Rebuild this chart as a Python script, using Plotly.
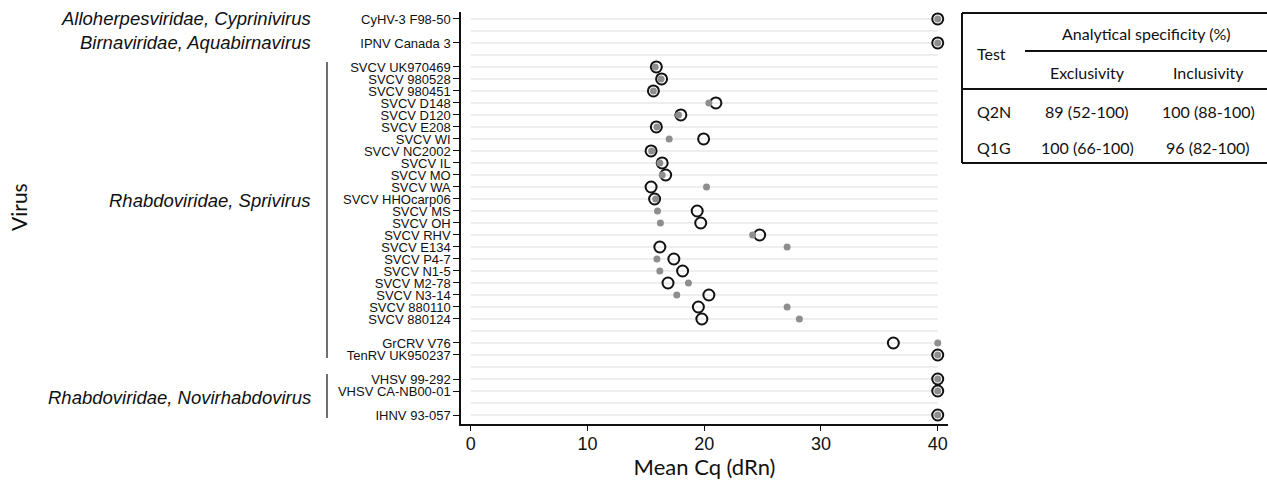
import plotly.graph_objects as go

# Virus panel rows, top to bottom ("" = spacer row between groups)
viruses = [
    "CyHV-3 F98-50", "", "IPNV Canada 3", "",
    "SVCV UK970469", "SVCV 980528", "SVCV 980451", "SVCV D148", "SVCV D120",
    "SVCV E208", "SVCV WI", "SVCV NC2002", "SVCV IL", "SVCV MO", "SVCV WA",
    "SVCV HHOcarp06", "SVCV MS", "SVCV OH", "SVCV RHV", "SVCV E134",
    "SVCV P4-7", "SVCV N1-5", "SVCV M2-78", "SVCV N3-14", "SVCV 880110",
    "SVCV 880124", "",
    "GrCRV V76", "TenRV UK950237", "",
    "VHSV 99-292", "VHSV CA-NB00-01", "",
    "IHNV 93-057",
]

# Mean Cq per virus for the two assays (None on spacer rows)
cq_open = [
    40.0, None, 40.0, None,
    15.9, 16.35, 15.65, 21.0, 18.0,
    15.9, 19.95, 15.45, 16.4, 16.7, 15.45,
    15.75, 19.4, 19.7, 24.75, 16.2,
    17.4, 18.15, 16.9, 20.4, 19.5,
    19.8, None,
    36.2, 40.0, None,
    40.0, 40.0, None,
    40.0,
]
cq_dot = [
    40.0, None, 40.0, None,
    15.8, 16.3, 15.65, 20.4, 17.8,
    15.95, 17.0, 15.5, 16.2, 16.4, 20.2,
    15.85, 16.0, 16.25, 24.15, 27.1,
    15.95, 16.2, 18.65, 17.65, 27.1,
    28.15, None,
    40.0, 40.0, None,
    40.0, 40.0, None,
    40.0,
]

# Taxonomic groups: (label, first row, last row, label row, draw bracket)
groups = [
    ("Alloherpesviridae, Cyprinivirus", 0, 0, 0.0, False),
    ("Birnaviridae, Aquabirnavirus", 2, 2, 2.0, False),
    ("Rhabdoviridae, Sprivirus", 4, 28, 15.1, True),
    ("Rhabdoviridae, Novirhabdovirus", 30, 33, 31.5, True),
]

x_ticks = [0, 10, 20, 30, 40]

# Specificity table
table_cols = ["Exclusivity", "Inclusivity"]
table_tests = ["Q2N", "Q1G"]
table_values = [["89 (52-100)", "100 (88-100)"], ["100 (66-100)", "96 (82-100)"]]

W, H = 1267, 480
L, R, T, B = 461, 948, 12, 424

def px(xp):
    return (xp - L) / (R - L)

def py(yp):
    return (B - yp) / (B - T)

rows = list(range(len(viruses)))
tick_rows = [i for i, v in enumerate(viruses) if v]
tick_text = [viruses[i] for i in tick_rows]

fig = go.Figure()

fig.add_trace(go.Scatter(
    x=cq_open, y=rows, mode="markers", name="open",
    marker=dict(symbol="circle-open", size=11, color="#111111",
                line=dict(width=2, color="#111111")),
    showlegend=False, hoverinfo="x+y"))
fig.add_trace(go.Scatter(
    x=cq_dot, y=rows, mode="markers", name="dot",
    marker=dict(symbol="circle", size=7, color="#8e8e8e"),
    showlegend=False, hoverinfo="x+y"))

annotations = []
shapes = []

# light row guides across the data range
for i in rows:
    shapes.append(dict(type="line", xref="x", yref="y", x0=0, x1=40, y0=i, y1=i,
                       line=dict(color="#e8e8e8", width=1.5), layer="below"))

for label, first, last, lrow, bracket in groups:
    annotations.append(dict(
        text=label, xref="paper", yref="y", x=px(313), y=lrow,
        xanchor="right", yanchor="middle", showarrow=False,
        font=dict(family="Liberation Sans", size=18.5, color="#111111", style="italic")))
    if bracket:
        shapes.append(dict(type="line", xref="paper", yref="y",
                           x0=px(327), x1=px(327), y0=first - 0.42, y1=last + 0.25,
                           line=dict(color="#111111", width=1.2)))

annotations.append(dict(
    text="Virus", xref="paper", yref="paper", x=px(18), y=py(207),
    xanchor="center", yanchor="middle", textangle=-90, showarrow=False,
    font=dict(family="Lato", size=21, color="#111111")))

# specificity table
tf = dict(family="Lato", size=16, color="#111111")
black = dict(color="#111111", width=2)
for (x0, y0, x1, y1) in [(962, 13, 1275, 13), (962, 163, 1275, 163),
                         (962, 13, 962, 163), (1025, 51, 1275, 51),
                         (962, 89, 1275, 89)]:
    shapes.append(dict(type="line", xref="paper", yref="paper",
                       x0=px(x0), x1=px(x1), y0=py(y0), y1=py(y1), line=black))

def cell(text, xp, yp, anchor="center"):
    annotations.append(dict(text=text, xref="paper", yref="paper", x=px(xp), y=py(yp),
                            xanchor=anchor, yanchor="middle", showarrow=False, font=tf))

cell("Analytical specificity (%)", 1146, 34)
cell("Test", 975, 54, "left")
cell(table_cols[0], 1087, 72)
cell(table_cols[1], 1208, 72)
for r, (test, vals) in enumerate(zip(table_tests, table_values)):
    yy = 111 + 36 * r
    cell(test, 975, yy, "left")
    cell(vals[0], 1087, yy)
    cell(vals[1], 1208, yy)

fig.update_layout(
    width=W, height=H,
    margin=dict(l=L, r=W - R, t=T, b=H - B),
    paper_bgcolor="white", plot_bgcolor="white",
    annotations=annotations, shapes=shapes,
    xaxis=dict(range=[-0.83, 40.88], tickvals=x_ticks, ticktext=[str(v) for v in x_ticks],
               showgrid=False, zeroline=False, showline=True, linecolor="#111111",
               linewidth=1.5, ticks="outside", ticklen=5, tickcolor="#111111",
               ticklabelstandoff=-2, automargin=False,
               tickfont=dict(family="Liberation Sans", size=18, color="#111111"),
               title=dict(text="Mean Cq (dRn)", standoff=4,
                          font=dict(family="Lato", size=22, color="#111111"))),
    yaxis=dict(range=[33.75, -0.58], tickvals=tick_rows, ticktext=tick_text,
               showgrid=False, zeroline=False, showline=True, linecolor="#111111",
               linewidth=1.5, ticks="outside", ticklen=6, tickcolor="#111111",
               automargin=False,
               tickfont=dict(family="Liberation Sans", size=13, color="#111111")),
)

fig.write_html("out.html")
